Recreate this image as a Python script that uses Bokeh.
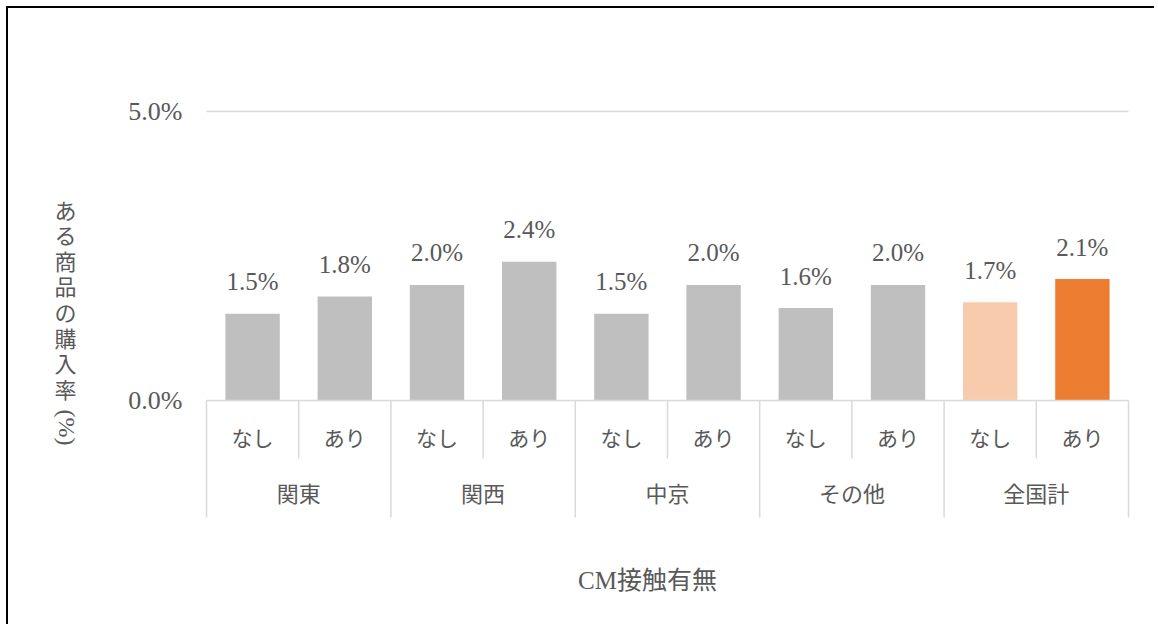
import numpy as np
from bokeh.plotting import figure
from bokeh.models import Range1d
from bokeh.core.properties import value
from bokeh.embed import file_html
from bokeh.resources import INLINE

# ---- data ----
regions = ["関東", "関西", "中京", "その他", "全国計"]
cm_levels = ["なし", "あり"]
rates = [1.5, 1.8, 2.0, 2.4, 1.5, 2.0, 1.6, 2.0, 1.7, 2.1]
rate_labels = ["1.5%", "1.8%", "2.0%", "2.4%", "1.5%", "2.0%", "1.6%", "2.0%", "1.7%", "2.1%"]
bar_colors = ["#BFBFBF"] * 8 + ["#F8CBAD", "#ED7D31"]
y_ticks = [0.0, 5.0]
y_tick_labels = ["0.0%", "5.0%"]
x_title = "CM接触有無"
y_title_upright = "ある商品の購入率"
y_title_rot = "(%)"

# ---- geometry (pixels per data unit) ----
W, H = 1148, 618
PX_X = 92.2      # px per category
PX_Y = 57.8      # px per 1 percentage point
OX, OY = 8, 8    # page position of canvas origin
X0 = 206 - OX    # canvas px of category axis start
Y0 = 400 - OY    # canvas px (from top) of 0%

def dx(px):
    return px / PX_X

def dy(px):
    return px / PX_Y

n = len(rates)
centers = [i + 0.5 for i in range(n)]
sub_labels = [cm_levels[i % 2] for i in range(n)]
group_centers = [2 * g + 1 for g in range(len(regions))]

p = figure(width=W, height=H, output_backend="svg", toolbar_location=None,
           x_range=Range1d(-dx(X0), dx(W - X0)),
           y_range=Range1d(-dy(H - Y0), dy(Y0)),
           min_border=0, outline_line_color=None)
p.axis.visible = False
p.grid.visible = False
p.background_fill_color = "white"
p.border_fill_color = "white"
p.styles = {"border-top": "2px solid black", "border-left": "2px solid black",
            "margin-top": "6px", "margin-left": "6px"}

TXT = "#595959"
SERIF = value("Liberation Serif")
JP = value("Noto Sans CJK JP")
MIX = value("Liberation Serif, Noto Sans CJK JP")

# gridline at top tick
p.segment(x0=[0], x1=[n], y0=[y_ticks[1]], y1=[y_ticks[1]], line_color="#D9D9D9", line_width=1.5)

# bars
p.vbar(x=centers, top=rates, bottom=0, width=0.59, fill_color=bar_colors, line_color=None)

# category axis line
p.segment(x0=[0], x1=[n], y0=[y_ticks[0]], y1=[y_ticks[0]], line_color="#D9D9D9", line_width=1.5)

# separators
sep_x = list(range(n + 1))
sep_y1 = [-dy(117) if k % 2 == 0 else -dy(58) for k in sep_x]
p.segment(x0=sep_x, x1=sep_x, y0=[0] * len(sep_x), y1=sep_y1, line_color="#D9D9D9", line_width=1.5)

# y tick labels
p.text(x=[-dx(24)] * 2, y=y_ticks, text=y_tick_labels, text_align="right", text_baseline="middle",
       text_font=SERIF, text_font_size="26px", text_color=TXT)

# value labels
p.text(x=centers, y=[r + dy(32) for r in rates], text=rate_labels, text_align="center",
       text_baseline="alphabetic", text_font=SERIF, text_font_size="25px", text_color=TXT)

# sub category labels
p.text(x=centers, y=[-dy(36)] * n, text=sub_labels, text_align="center", text_baseline="middle",
       text_font=JP, text_font_size="21px", text_color=TXT)

# group labels
p.text(x=group_centers, y=[-dy(91)] * len(regions), text=regions, text_align="center",
       text_baseline="middle", text_font=JP, text_font_size="22px", text_color=TXT)

# x axis title
p.text(x=[dx(647 - 206)], y=[-dy(180)], text=[x_title], text_align="center", text_baseline="middle",
       text_font=MIX, text_font_size="25px", text_color=TXT)

# y axis title (vertical writing)
p.text(x=[dx(65 - 206)], y=[dy(400 - 192)], text=["\n".join(y_title_upright)], text_align="center",
       text_baseline="top", text_font=JP, text_font_size="22px", text_line_height=0.8,
       text_color=TXT)
p.text(x=[dx(66 - 206)], y=[-dy(427 - 400)], text=[y_title_rot], angle=-np.pi / 2,
       text_align="center", text_baseline="middle", text_font=SERIF, text_font_size="24px",
       text_color=TXT)

open("out.html", "w").write(file_html(p, INLINE))
